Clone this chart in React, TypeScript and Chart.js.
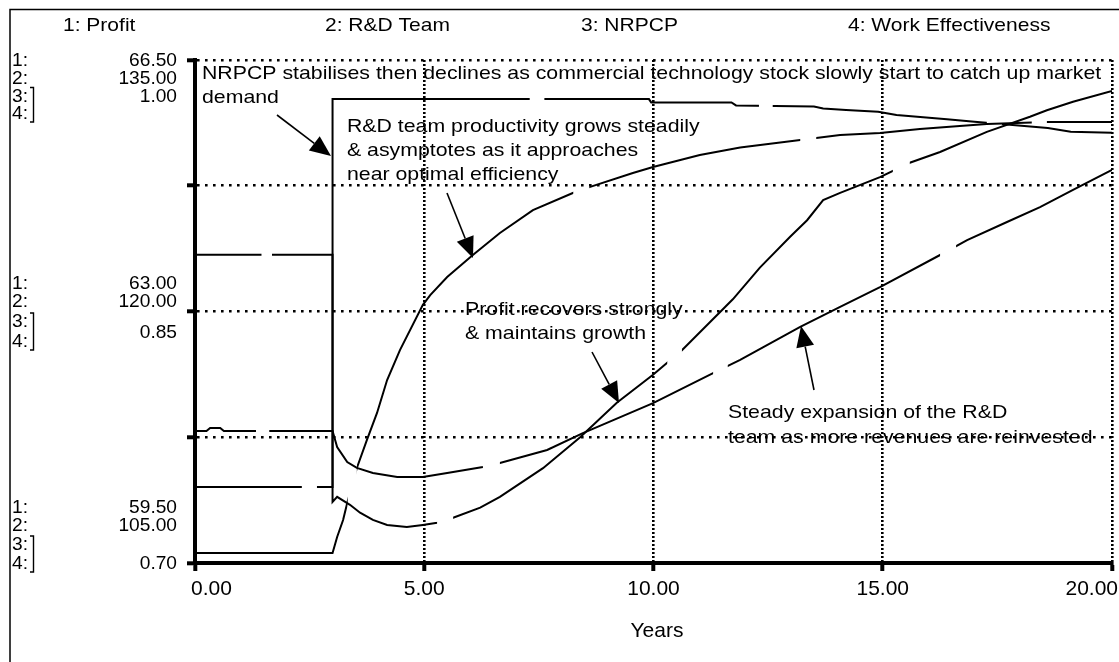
import React, { useEffect, useRef } from 'react';
import { Chart, registerables } from 'chart.js';
Chart.register(...registerables);

// ---------- data ----------
const seriesNames = ['1: Profit', '2: R&D Team', '3: NRPCP', '4: Work Effectiveness'];

const xTickValues = [0, 5, 10, 15, 20];
const xTickLabels = ['0.00', '5.00', '10.00', '15.00', '20.00'];

const profitTicks = [59.5, 61.25, 63, 64.75, 66.5];
const groupTop = ['66.50', '135.00', '1.00'];
const groupMid = ['63.00', '120.00', '0.85'];
const groupBot = ['59.50', '105.00', '0.70'];

const profitT = [0, 3, 3, 3.10, 3.38, 3.60, 3.88, 4.19, 4.62, 4.97, 5.28, 5.63, 6.22, 6.65, 7.59, 8.40, 9.20, 9.99, 10.62, 11.73, 12.32, 12.98, 13.35, 13.70, 14.07, 14.94, 15.59, 16.25, 17.27, 18.21, 18.58, 19.15, 20];
const profitV = [63.79, 63.79, 60.35, 60.42, 60.31, 60.20, 60.10, 60.03, 60.00, 60.03, 60.06, 60.13, 60.27, 60.42, 60.82, 61.25, 61.73, 62.12, 62.46, 63.17, 63.61, 64.04, 64.27, 64.55, 64.65, 64.87, 65.07, 65.22, 65.50, 65.71, 65.80, 65.92, 66.07];

const rdT = [0, 0.25, 0.33, 0.55, 0.63, 3, 3.10, 3.32, 3.53, 3.88, 4.41, 4.97, 5.50, 6.28, 6.65, 7.68, 8.46, 9.99, 11.30, 11.89, 13.20, 14.07, 14.94, 16.25, 16.84, 17.71, 18.43, 19.15, 20];
const rdV = [112.87, 112.87, 113.05, 113.05, 112.87, 112.87, 111.92, 111.02, 110.67, 110.37, 110.13, 110.13, 110.37, 110.73, 110.96, 111.74, 112.75, 114.54, 116.33, 117.11, 119.08, 120.27, 121.46, 123.37, 124.26, 125.34, 126.23, 127.25, 128.44];

const nrT = [0, 3, 3, 9.9, 9.95, 11.7, 11.8, 13.5, 13.7, 14.2, 14.9, 15.3, 16.4, 17.0, 18.6, 19.1, 20];
const nrV = [0.7453, 0.7453, 0.9767, 0.9767, 0.9747, 0.9747, 0.9729, 0.9723, 0.9711, 0.9702, 0.9692, 0.9672, 0.9646, 0.9632, 0.9594, 0.9572, 0.9566];

const weT = [0, 3, 3.10, 3.23, 3.32, 3.53, 3.75, 3.97, 4.19, 4.47, 4.97, 5.13, 5.50, 6.06, 6.65, 7.37, 8.24, 8.62, 9.55, 9.99, 11.01, 11.89, 13.20, 14.07, 14.94, 15.81, 16.68, 17.27, 18.58, 20];
const weV = [0.7060, 0.7060, 0.7155, 0.7256, 0.7358, 0.7567, 0.7734, 0.7895, 0.8091, 0.8270, 0.8540, 0.8598, 0.8706, 0.8837, 0.8968, 0.9105, 0.9207, 0.9243, 0.9326, 0.9362, 0.9433, 0.9478, 0.9523, 0.9553, 0.9565, 0.9588, 0.9606, 0.9618, 0.9630, 0.9630];

// breaks in each curve (years) where the curve number would sit
const profitGaps = [[1.45, 1.68], [5.28, 5.63], [10.3, 10.62], [15.22, 15.59]];
const rdGaps = [[1.33, 1.62], [6.28, 6.65], [11.3, 11.62], [16.25, 16.6]];
const nrGaps = [[2.33, 2.66], [7.3, 7.62], [12.3, 12.6], [17.27, 17.6]];
const weGaps = [[3.33, 3.53], [8.25, 8.6], [13.2, 13.55], [18.25, 18.58]];
const allGaps = [profitGaps, rdGaps, nrGaps, weGaps];

const annotations = [
  { lines: ['NRPCP stabilises then declines as commercial technology stock slowly start to catch up market', 'demand'] },
  { lines: ['R&D team productivity grows steadily', '& asymptotes as it approaches', 'near optimal efficiency'] },
  { lines: ['Profit recovers strongly', '& maintains growth'] },
  { lines: ['Steady expansion of the R&D', 'team as more revenues are reinvested'] },
];

// ---------- layout ----------
const W = 1119, H = 662;
const AREA = { left: 195, right: 1112, top: 60, bottom: 563 };
const YW = 20, XH = 30;
const FONT = '"Liberation Sans", Arial, Helvetica, sans-serif';
const SMALL = 18.6;
const NOTE_SX = 1.145;

const notePos = [
  { x: 202, y: 78.5, dy: 24.4 },
  { x: 347, y: 131.5, dy: 24.3 },
  { x: 465, y: 315, dy: 23.5 },
  { x: 728, y: 418, dy: 25 },
];
const arrows = [
  { x1: 277, y1: 115, x2: 331, y2: 156 },
  { x1: 447, y1: 193, x2: 473, y2: 258 },
  { x1: 592, y1: 352, x2: 619, y2: 403 },
  { x1: 814, y1: 390, x2: 801, y2: 326 },
];

function txt(ctx: CanvasRenderingContext2D, s: string, x: number, y: number, align: string, size: number, sx: number) {
  ctx.save();
  ctx.font = `${size}px ${FONT}`;
  ctx.textBaseline = 'alphabetic';
  ctx.textAlign = 'left';
  ctx.fillStyle = '#000';
  const w = ctx.measureText(s).width * sx;
  const left = align === 'left' ? x : align === 'right' ? x - w : x - w / 2;
  ctx.translate(left, y);
  ctx.scale(sx, 1);
  ctx.fillText(s, 0, 0);
  ctx.restore();
}

function arrow(ctx: CanvasRenderingContext2D, a: { x1: number; y1: number; x2: number; y2: number }) {
  const ang = Math.atan2(a.y2 - a.y1, a.x2 - a.x1);
  const L = 21, HW = 9;
  const bx = a.x2 - L * Math.cos(ang), by = a.y2 - L * Math.sin(ang);
  ctx.save();
  ctx.strokeStyle = '#000';
  ctx.fillStyle = '#000';
  ctx.lineWidth = 1.6;
  ctx.beginPath();
  ctx.moveTo(a.x1, a.y1);
  ctx.lineTo(bx, by);
  ctx.stroke();
  ctx.beginPath();
  ctx.moveTo(a.x2, a.y2);
  ctx.lineTo(bx + HW * Math.sin(ang), by - HW * Math.cos(ang));
  ctx.lineTo(bx - HW * Math.sin(ang), by + HW * Math.cos(ang));
  ctx.closePath();
  ctx.fill();
  ctx.restore();
}

function bracket(ctx: CanvasRenderingContext2D, x: number, y1: number, y2: number) {
  ctx.save();
  ctx.strokeStyle = '#000';
  ctx.lineWidth = 1.4;
  ctx.beginPath();
  ctx.moveTo(x - 3.5, y1);
  ctx.lineTo(x, y1);
  ctx.lineTo(x, y2);
  ctx.lineTo(x - 3.5, y2);
  ctx.stroke();
  ctx.restore();
}

const gapPlugin = {
  id: 'curveGaps',
  beforeDatasetDraw(chart: any, args: any) {
    const ctx = chart.ctx as CanvasRenderingContext2D;
    const xs = chart.scales.x;
    const gaps = allGaps[args.index] || [];
    ctx.save();
    ctx.beginPath();
    let cur = 0;
    for (const g of gaps) {
      const a = xs.getPixelForValue(g[0]);
      ctx.rect(cur, 0, a - cur, H);
      cur = xs.getPixelForValue(g[1]);
    }
    ctx.rect(cur, 0, W - cur, H);
    ctx.clip();
  },
  afterDatasetDraw(chart: any) {
    chart.ctx.restore();
  },
};

const decorPlugin = {
  id: 'decor',
  beforeDraw(chart: any) {
    const ctx = chart.ctx as CanvasRenderingContext2D;
    annotations.forEach((n, i) => {
      const p = notePos[i];
      n.lines.forEach((l, j) => txt(ctx, l, p.x, p.y + j * p.dy, 'left', SMALL, NOTE_SX));
    });
  },
  afterDatasetsDraw(chart: any) {
    const ctx = chart.ctx as CanvasRenderingContext2D;
    arrows.forEach((a) => arrow(ctx, a));
  },
  afterDraw(chart: any) {
    const ctx = chart.ctx as CanvasRenderingContext2D;
    const xs = chart.scales.x;
    // frame
    ctx.save();
    ctx.strokeStyle = '#000';
    ctx.lineWidth = 1.5;
    ctx.beginPath();
    ctx.moveTo(10, H);
    ctx.lineTo(10, 9.5);
    ctx.lineTo(W, 9.5);
    ctx.stroke();
    ctx.restore();
    // series titles
    const legendX = [63, 325, 581, 848];
    seriesNames.forEach((s, i) => txt(ctx, s, legendX[i], 31, 'left', SMALL, 1.13));
    // x tick labels
    xTickValues.forEach((v, i) => {
      const px = xs.getPixelForValue(v);
      const align = i === 0 ? 'left' : i === xTickValues.length - 1 ? 'right' : 'center';
      const x = i === 0 ? px - 4 : i === xTickValues.length - 1 ? px + 6 : px;
      txt(ctx, xTickLabels[i], x, 595, align, 21, 1.0);
    });
    txt(ctx, 'Years', 657, 637, 'center', 21, 1.0);
    // left value groups
    const numX = 12, valX = 177;
    const drawGroup = (vals: string[], rows: number[], v3y: number) => {
      ['1:', '2:', '3:', '4:'].forEach((s, i) => txt(ctx, s, numX, rows[i], 'left', SMALL, 1.03));
      txt(ctx, vals[0], valX, rows[0], 'right', SMALL, 1.03);
      txt(ctx, vals[1], valX, rows[1], 'right', SMALL, 1.03);
      txt(ctx, vals[2], valX, v3y, 'right', SMALL, 1.03);
      bracket(ctx, 33.5, rows[2] - 14, rows[3] + 3);
    };
    drawGroup(groupTop, [66, 84, 101.5, 119], 101.5);
    drawGroup(groupMid, [289, 306.5, 327, 347], 338);
    drawGroup(groupBot, [513, 531, 550, 569], 569);
  },
};

export default function App() {
  const ref = useRef<HTMLCanvasElement>(null);
  useEffect(() => {
    const canvas = ref.current!;
    const mk = (t: number[], v: number[]) => t.map((x, i) => ({ x, y: v[i] }));
    const line = (label: string, t: number[], v: number[], axis: string) => ({
      label,
      data: mk(t, v),
      yAxisID: axis,
      borderColor: '#000',
      borderWidth: 2,
      pointRadius: 0,
      tension: 0,
      fill: false,
    });
    const chart = new Chart(canvas, {
      type: 'line',
      data: {
        datasets: [
          line(seriesNames[0], profitT, profitV, 'y'),
          line(seriesNames[1], rdT, rdV, 'y2'),
          line(seriesNames[2], nrT, nrV, 'y3'),
          line(seriesNames[3], weT, weV, 'y4'),
        ] as any,
      },
      options: {
        animation: false,
        responsive: false,
        devicePixelRatio: 1,
        events: [],
        layout: {
          padding: { left: AREA.left - YW, right: W - AREA.right, top: AREA.top, bottom: H - AREA.bottom - XH },
        },
        plugins: { legend: { display: false }, tooltip: { enabled: false } },
        scales: {
          x: {
            type: 'linear',
            min: 0,
            max: 20,
            afterBuildTicks: (s: any) => { s.ticks = xTickValues.map((v) => ({ value: v })); },
            afterFit: (s: any) => { s.height = XH; },
            ticks: { display: false },
            grid: { color: '#000', lineWidth: 2.6, tickLength: 8, tickWidth: 4, tickColor: '#000' },
            border: { color: '#000', width: 4, dash: [2, 2] },
          },
          y: {
            position: 'left',
            min: 59.5,
            max: 66.5,
            afterBuildTicks: (s: any) => { s.ticks = profitTicks.map((v) => ({ value: v })); },
            afterFit: (s: any) => { s.width = YW; },
            ticks: { display: false },
            grid: { color: '#000', lineWidth: 2.6, tickLength: 8, tickWidth: 4, tickColor: '#000' },
            border: { color: '#000', width: 4, dash: [2.6, 5.4] },
          },
          y2: { display: false, min: 105, max: 135 },
          y3: { display: false, min: 0.7, max: 1.0 },
          y4: { display: false, min: 0.7, max: 1.0 },
        },
      } as any,
      plugins: [gapPlugin, decorPlugin],
    });
    return () => chart.destroy();
  }, []);
  return (
    <div style={{ position: 'fixed', left: 0, top: 0, width: W, height: H, overflow: 'hidden', background: '#fff' }}>
      <canvas ref={ref} width={W} height={H} style={{ display: 'block' }} />
    </div>
  );
}
